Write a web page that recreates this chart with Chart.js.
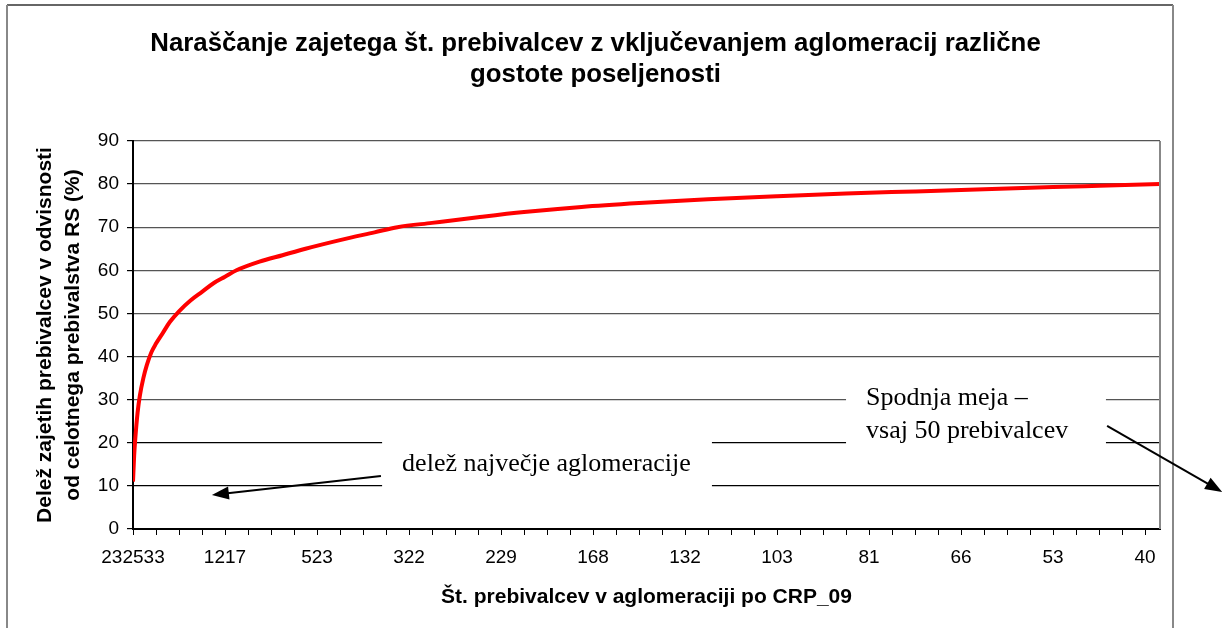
<!DOCTYPE html>
<html>
<head>
  <meta charset="UTF-8">
  <title>Naraščanje zajetega št. prebivalcev</title>
  <script src="https://cdn.jsdelivr.net/npm/chart.js@4.4.0/dist/chart.umd.min.js"></script>
  <style type="text/css">
    html, body { margin: 0; padding: 0; background: #fff; }
    #chart-container { width: 1222px; height: 628px; }
  </style>
</head>
<body>

<div id="chart-container">
  <canvas id="mycanvas" width="1222" height="628"></canvas>
</div>

<script>
// tick labels along the x axis (population of the agglomeration at that rank)
var xTickLabels = ['232533', '1217', '523', '322', '229', '168', '132', '103', '81', '66', '53', '40'];
var labelEvery = 4;      // one label on every 4th tick mark
var xMax = 44.65;

// cumulative share of population (%) against position on the x axis (tick units)
var rankPos  = [0, 0.05, 0.1, 0.2, 0.3, 0.45, 0.6, 0.8, 1.0, 1.3, 1.6, 2.0, 2.5, 3.0, 3.5, 4.0, 4.5,
                5.5, 6.5, 7.5, 9, 10.5, 11.5, 13, 15, 17, 19.5, 22, 25, 28, 31, 34, 37, 40, 42, 44.65];
var sharePct = [11, 17, 21, 27, 31, 35, 38, 41, 43, 45.5, 48, 50.5, 53, 55, 57, 58.5, 60,
                62, 63.5, 65, 67, 68.8, 70, 71, 72.3, 73.5, 74.7, 75.6, 76.5, 77.2, 77.8, 78.3, 78.8, 79.3, 79.6, 80];

var points = [];
for (var i = 0; i < rankPos.length; i++) {
  points.push({x: rankPos[i], y: sharePct[i]});
}

function arrow(ctx, x1, y1, x2, y2) {
  var ang = Math.atan2(y2 - y1, x2 - x1);
  var len = 17, w = 6.5;
  ctx.beginPath();
  ctx.moveTo(x1, y1);
  ctx.lineTo(x2 - Math.cos(ang) * len * 0.8, y2 - Math.sin(ang) * len * 0.8);
  ctx.stroke();
  ctx.beginPath();
  ctx.moveTo(x2, y2);
  ctx.lineTo(x2 - Math.cos(ang) * len + Math.sin(ang) * w, y2 - Math.sin(ang) * len - Math.cos(ang) * w);
  ctx.lineTo(x2 - Math.cos(ang) * len - Math.sin(ang) * w, y2 - Math.sin(ang) * len + Math.cos(ang) * w);
  ctx.closePath();
  ctx.fill();
}

var notesPlugin = {
  id: 'notes',
  beforeDraw: function(chart) {
    var ctx = chart.ctx;
    ctx.save();
    ctx.fillStyle = '#fff';
    ctx.fillRect(0, 0, chart.width, chart.height);
    // outer frame
    ctx.strokeStyle = '#333';
    ctx.lineWidth = 1.5;
    ctx.beginPath(); ctx.moveTo(7, 5); ctx.lineTo(1173, 5); ctx.stroke();
    ctx.strokeStyle = '#888';
    ctx.lineWidth = 2;
    ctx.beginPath(); ctx.moveTo(7, 5); ctx.lineTo(7, chart.height); ctx.stroke();
    ctx.beginPath(); ctx.moveTo(1173, 5); ctx.lineTo(1173, chart.height); ctx.stroke();
    ctx.restore();
  },
  afterDatasetsDraw: function(chart) {
    var ctx = chart.ctx, a = chart.chartArea;
    var xs = chart.scales.x, ys = chart.scales.y;
    function px(v) { return xs.getPixelForValue(v); }
    function py(v) { return ys.getPixelForValue(v); }
    ctx.save();
    // right plot border
    ctx.strokeStyle = '#888';
    ctx.lineWidth = 2;
    ctx.beginPath(); ctx.moveTo(a.right, a.top); ctx.lineTo(a.right, a.bottom); ctx.stroke();

    // white boxes behind the notes
    ctx.fillStyle = '#fff';
    ctx.fillRect(px(10.83), py(21.6), px(25.17) - px(10.83), py(8.1) - py(21.6));
    ctx.fillRect(px(31.0), py(33.4), px(42.3) - px(31.0), py(17.9) - py(33.4));

    ctx.fillStyle = '#000';
    ctx.font = '26px "Liberation Serif", "Times New Roman", serif';
    ctx.textBaseline = 'middle';
    ctx.textAlign = 'left';
    ctx.fillText('delež največje aglomeracije', px(11.7), py(15.0));
    ctx.fillText('Spodnja meja –', px(31.87), py(30.4));
    ctx.fillText('vsaj 50 prebivalcev', px(31.87), py(22.7));

    ctx.strokeStyle = '#000';
    ctx.lineWidth = 2;
    arrow(ctx, px(10.78), py(12.3), px(3.43), py(7.9));
    arrow(ctx, px(42.35), py(23.9), px(47.35), py(8.6));
    ctx.restore();
  }
};

var ctx = document.getElementById('mycanvas');

var chart = new Chart(ctx, {
  type: 'line',
  data: {
    datasets: [{
      label: 'Delež',
      data: points,
      borderColor: '#ff0000',
      borderWidth: 4,
      pointRadius: 0,
      fill: false,
      cubicInterpolationMode: 'monotone'
    }]
  },
  options: {
    responsive: false,
    animation: false,
    devicePixelRatio: 1,
    layout: { padding: { top: 28, left: 31, right: 62, bottom: 0 } },
    plugins: {
      legend: { display: false },
      tooltip: { enabled: false },
      title: {
        display: true,
        text: ['Naraščanje zajetega št. prebivalcev z vključevanjem aglomeracij različne', 'gostote poseljenosti'],
        color: '#000',
        font: { family: '"Liberation Sans", Arial, sans-serif', size: 25.8, weight: 'bold', lineHeight: 1.22 },
        padding: { top: 0, bottom: 50 }
      }
    },
    scales: {
      x: {
        type: 'linear',
        min: 0,
        max: xMax,
        afterFit: function(scale) { scale.height = 99; },
        border: { color: '#000', width: 2 },
        grid: { drawOnChartArea: false, drawTicks: true, tickLength: 6, tickColor: '#000', tickWidth: 1 },
        ticks: {
          stepSize: 1,
          autoSkip: false,
          includeBounds: false,
          maxRotation: 0,
          padding: 11,
          color: '#000',
          font: { family: '"Liberation Sans", Arial, sans-serif', size: 19 },
          callback: function(value) {
            var v = Math.round(value);
            return v % labelEvery === 0 ? xTickLabels[v / labelEvery] : '';
          }
        },
        title: {
          display: true,
          text: 'Št. prebivalcev v aglomeraciji po CRP_09',
          color: '#000',
          font: { family: '"Liberation Sans", Arial, sans-serif', size: 21, weight: 'bold' },
          padding: { top: 0, bottom: 18 }
        }
      },
      y: {
        min: 0,
        max: 90,
        afterFit: function(scale) { scale.width = 102; },
        border: { color: '#000', width: 2 },
        grid: {
          color: function(c) { return c.tick && c.tick.value <= 20 ? '#000' : '#555'; },
          lineWidth: 1.2,
          tickLength: 6,
          tickColor: '#000'
        },
        ticks: {
          stepSize: 10,
          padding: 8,
          color: '#000',
          font: { family: '"Liberation Sans", Arial, sans-serif', size: 19 }
        },
        title: {
          display: true,
          text: ['Delež zajetih prebivalcev v odvisnosti', 'od celotnega prebivalstva RS (%)'],
          color: '#000',
          font: { family: '"Liberation Sans", Arial, sans-serif', size: 21, weight: 'bold', lineHeight: 1.33 },
          padding: { top: 0, bottom: 0 }
        }
      }
    }
  },
  plugins: [notesPlugin]
});
</script>

</body>
</html>
